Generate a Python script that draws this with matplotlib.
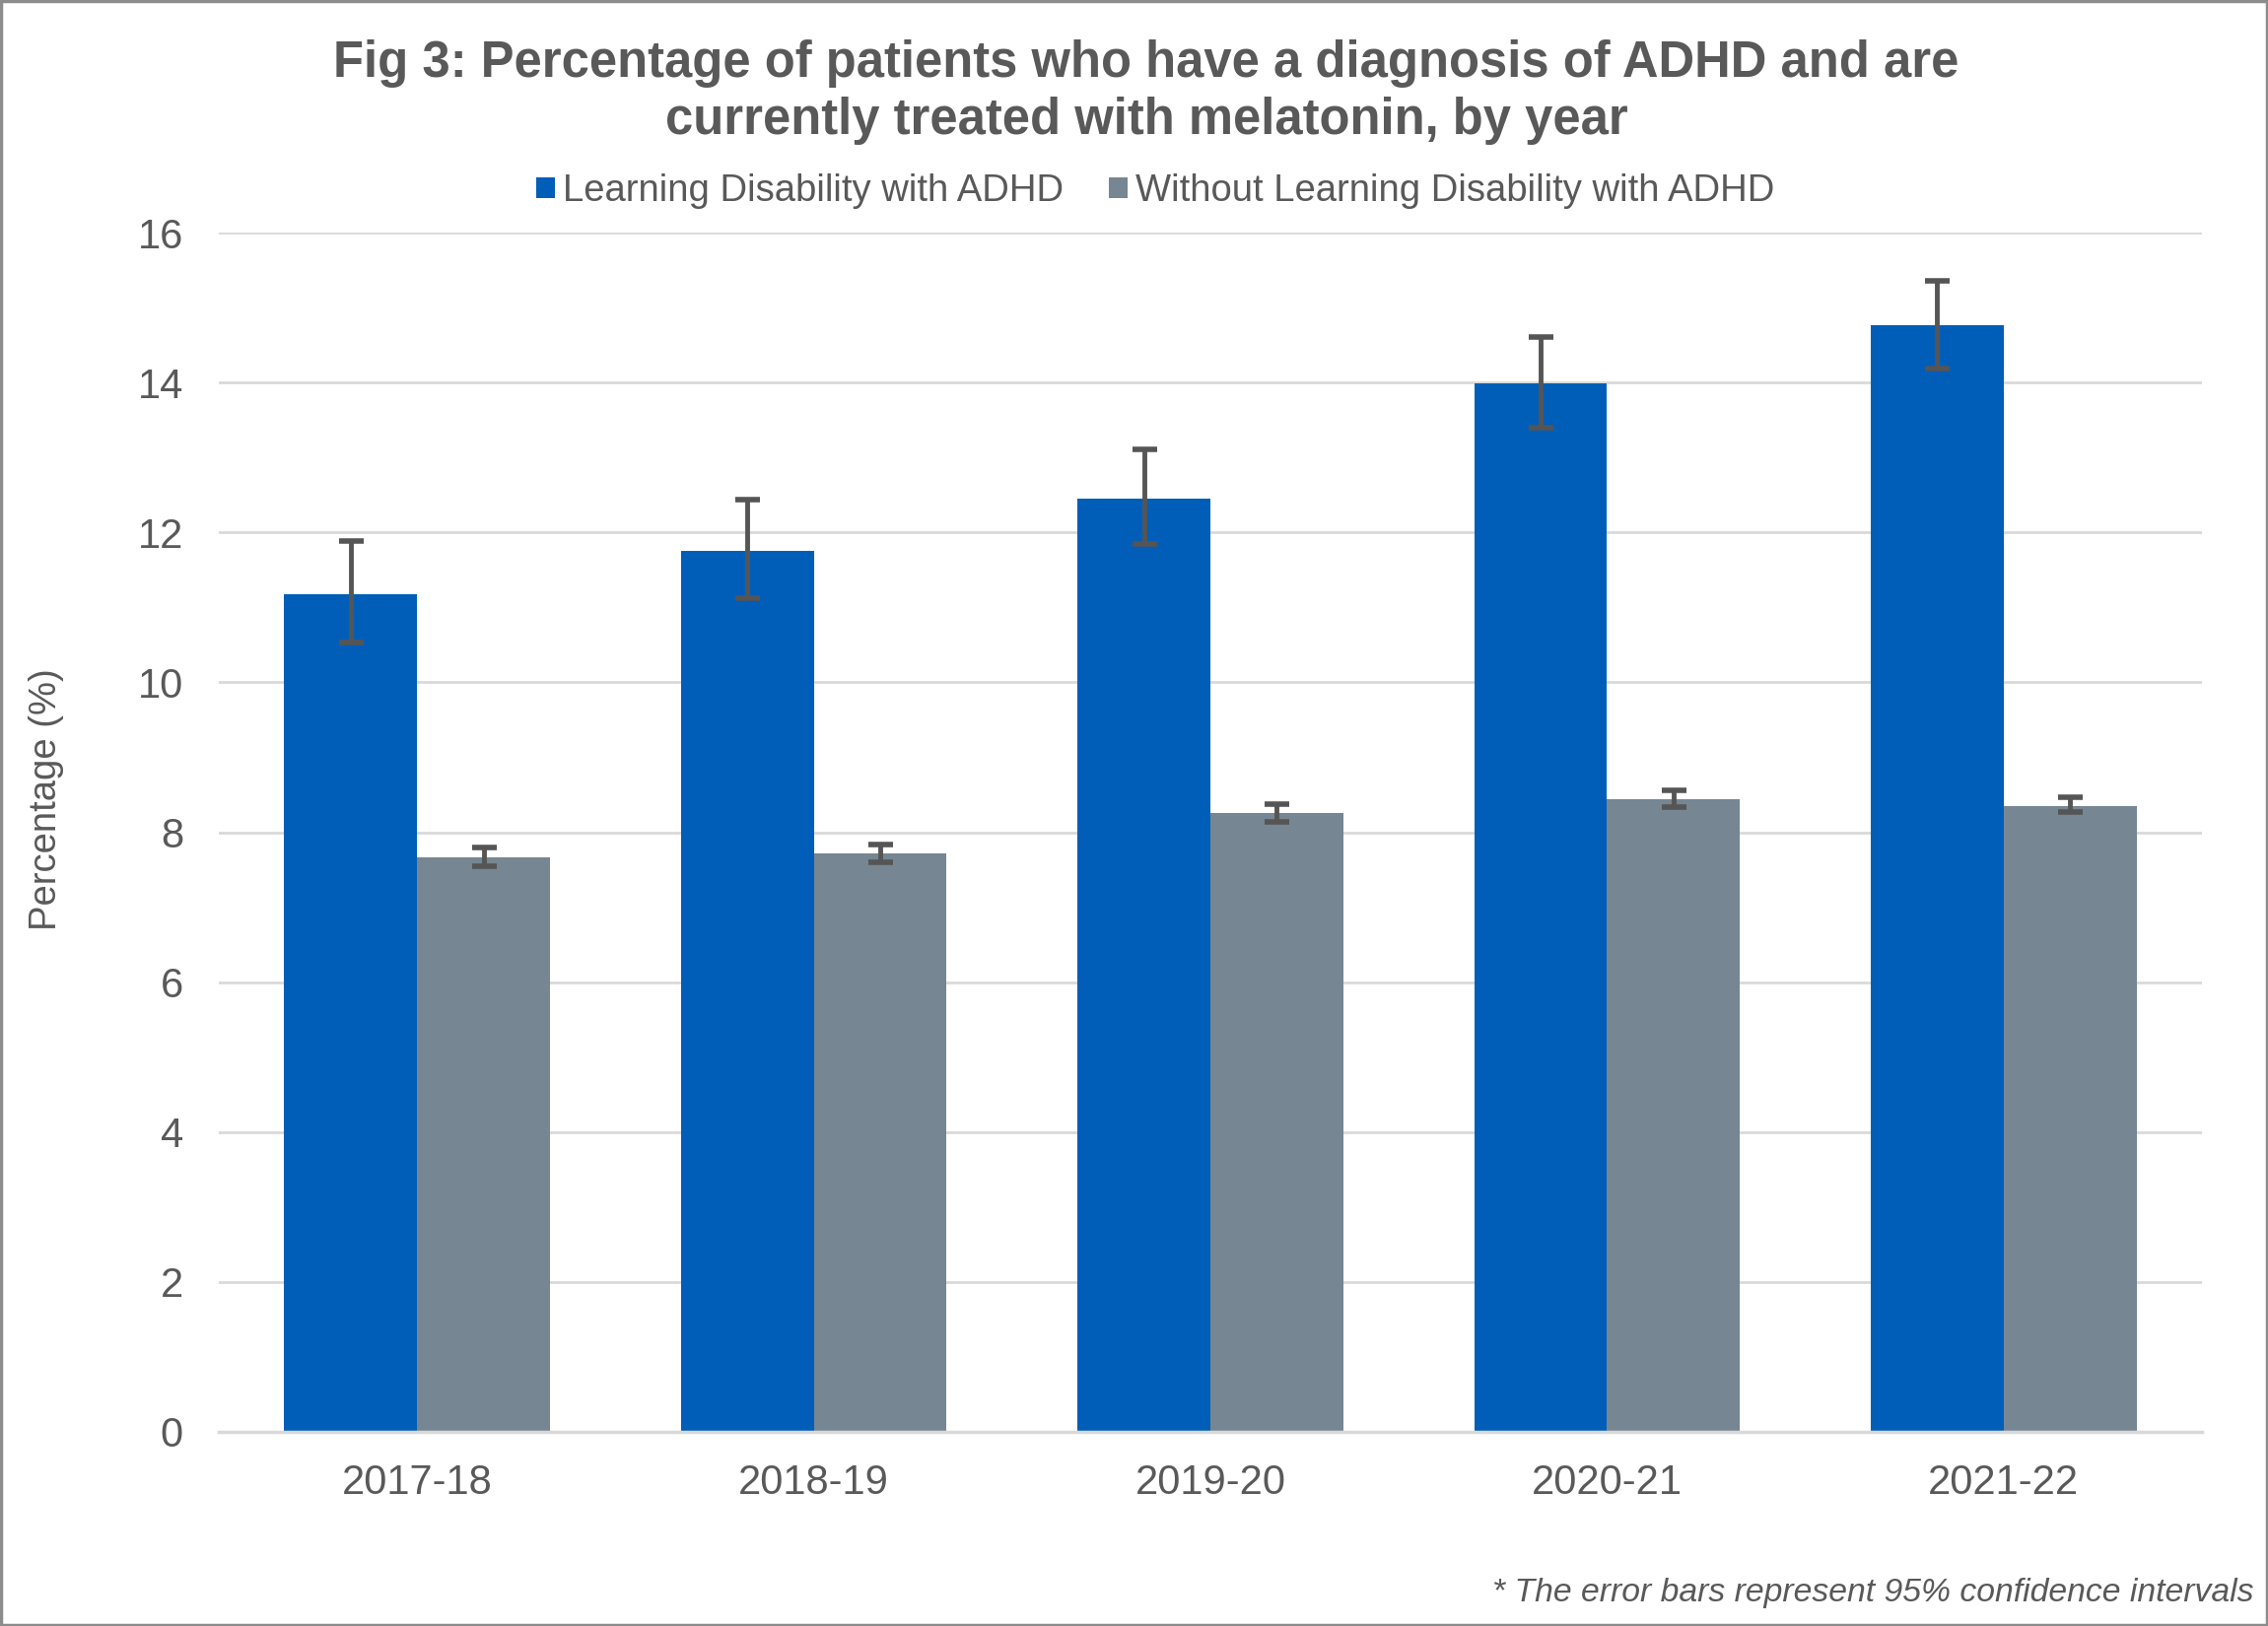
import matplotlib.pyplot as plt
import numpy as np
from matplotlib.patches import Rectangle

plt.rcParams['font.family'] = ['Liberation Sans', 'DejaVu Sans']

# Data
years = ['2017-18', '2018-19', '2019-20', '2020-21', '2021-22']
ld_adhd = [11.18, 11.76, 12.45, 13.99, 14.76]
ld_adhd_lo = [10.53, 11.12, 11.84, 13.40, 14.18]
ld_adhd_hi = [11.89, 12.44, 13.11, 14.60, 15.36]
no_ld_adhd = [7.66, 7.72, 8.26, 8.44, 8.35]
no_ld_adhd_lo = [7.54, 7.60, 8.14, 8.34, 8.27]
no_ld_adhd_hi = [7.80, 7.84, 8.37, 8.56, 8.47]

blue = '#005EB8'
grey = '#768692'
text_col = '#595959'

W, H = 2301, 1650
fig = plt.figure(figsize=(W / 100, H / 100), dpi=100)
ax = fig.add_axes([222 / W, 1 - 1453 / H, (2234 - 222) / W, (1453 - 236) / H])

x = np.arange(len(years))
bw = 0.335

b1 = ax.bar(x - bw / 2, ld_adhd, bw, color=blue, label='Learning Disability with ADHD', zorder=2)
b2 = ax.bar(x + bw / 2, no_ld_adhd, bw, color=grey, label='Without Learning Disability with ADHD', zorder=2)

err_style = dict(fmt='none', ecolor='#555555', elinewidth=3.5, capsize=9, capthick=4, zorder=3)
ax.errorbar(x - bw / 2, ld_adhd,
            yerr=[np.array(ld_adhd) - np.array(ld_adhd_lo), np.array(ld_adhd_hi) - np.array(ld_adhd)],
            **err_style)
ax.errorbar(x + bw / 2, no_ld_adhd,
            yerr=[np.array(no_ld_adhd) - np.array(no_ld_adhd_lo), np.array(no_ld_adhd_hi) - np.array(no_ld_adhd)],
            **err_style)

ax.set_xlim(-0.5, len(years) - 0.5)
ax.set_ylim(0, 16)
ax.set_yticks(range(0, 17, 2))
ax.set_xticks(x)
ax.set_xticklabels(years)
ax.tick_params(axis='both', length=0, labelsize=30, colors=text_col)
ax.tick_params(axis='y', pad=26)
ax.tick_params(axis='x', pad=23)
ax.yaxis.grid(True, color='#d9d9d9', linewidth=2, zorder=0)
ax.set_axisbelow(True)
for s in ['top', 'right', 'left']:
    ax.spines[s].set_visible(False)
ax.spines['bottom'].set_color('#d9d9d9')
ax.spines['bottom'].set_linewidth(2.5)

# Title, axis label, legend, note
fig.text(1163 / W, 1 - 78 / H, 'Fig 3: Percentage of patients who have a diagnosis of ADHD and are',
         ha='center', va='baseline', fontsize=36.5, fontweight='bold', color=text_col)
fig.text(1163 / W, 1 - 136 / H, 'currently treated with melatonin, by year',
         ha='center', va='baseline', fontsize=36.5, fontweight='bold', color=text_col)
fig.text(47 / W, 1 - 811 / H, 'Percentage (%)', rotation=90, ha='center', va='center',
         fontsize=27.5, color=text_col)

leg = fig.legend(handles=[b1, b2], loc='center', bbox_to_anchor=(1172 / W, 1 - 194 / H),
                 ncol=2, frameon=False, fontsize=27.5, handlelength=0.5, handleheight=0.5,
                 handletextpad=0.2, columnspacing=1.2, borderaxespad=0)
for t in leg.get_texts():
    t.set_color(text_col)

fig.text(2286 / W, 1 - 1625 / H, '* The error bars represent 95% confidence intervals',
         ha='right', va='baseline', fontsize=24.3, style='italic', color=text_col)

# Frame around the whole chart
fig.patches.append(Rectangle((0.0006, 0.0009), 0.9988, 0.9982, transform=fig.transFigure,
                             fill=False, edgecolor='#8c8c8c', linewidth=2.5))

plt.savefig('out.png', dpi=100)
